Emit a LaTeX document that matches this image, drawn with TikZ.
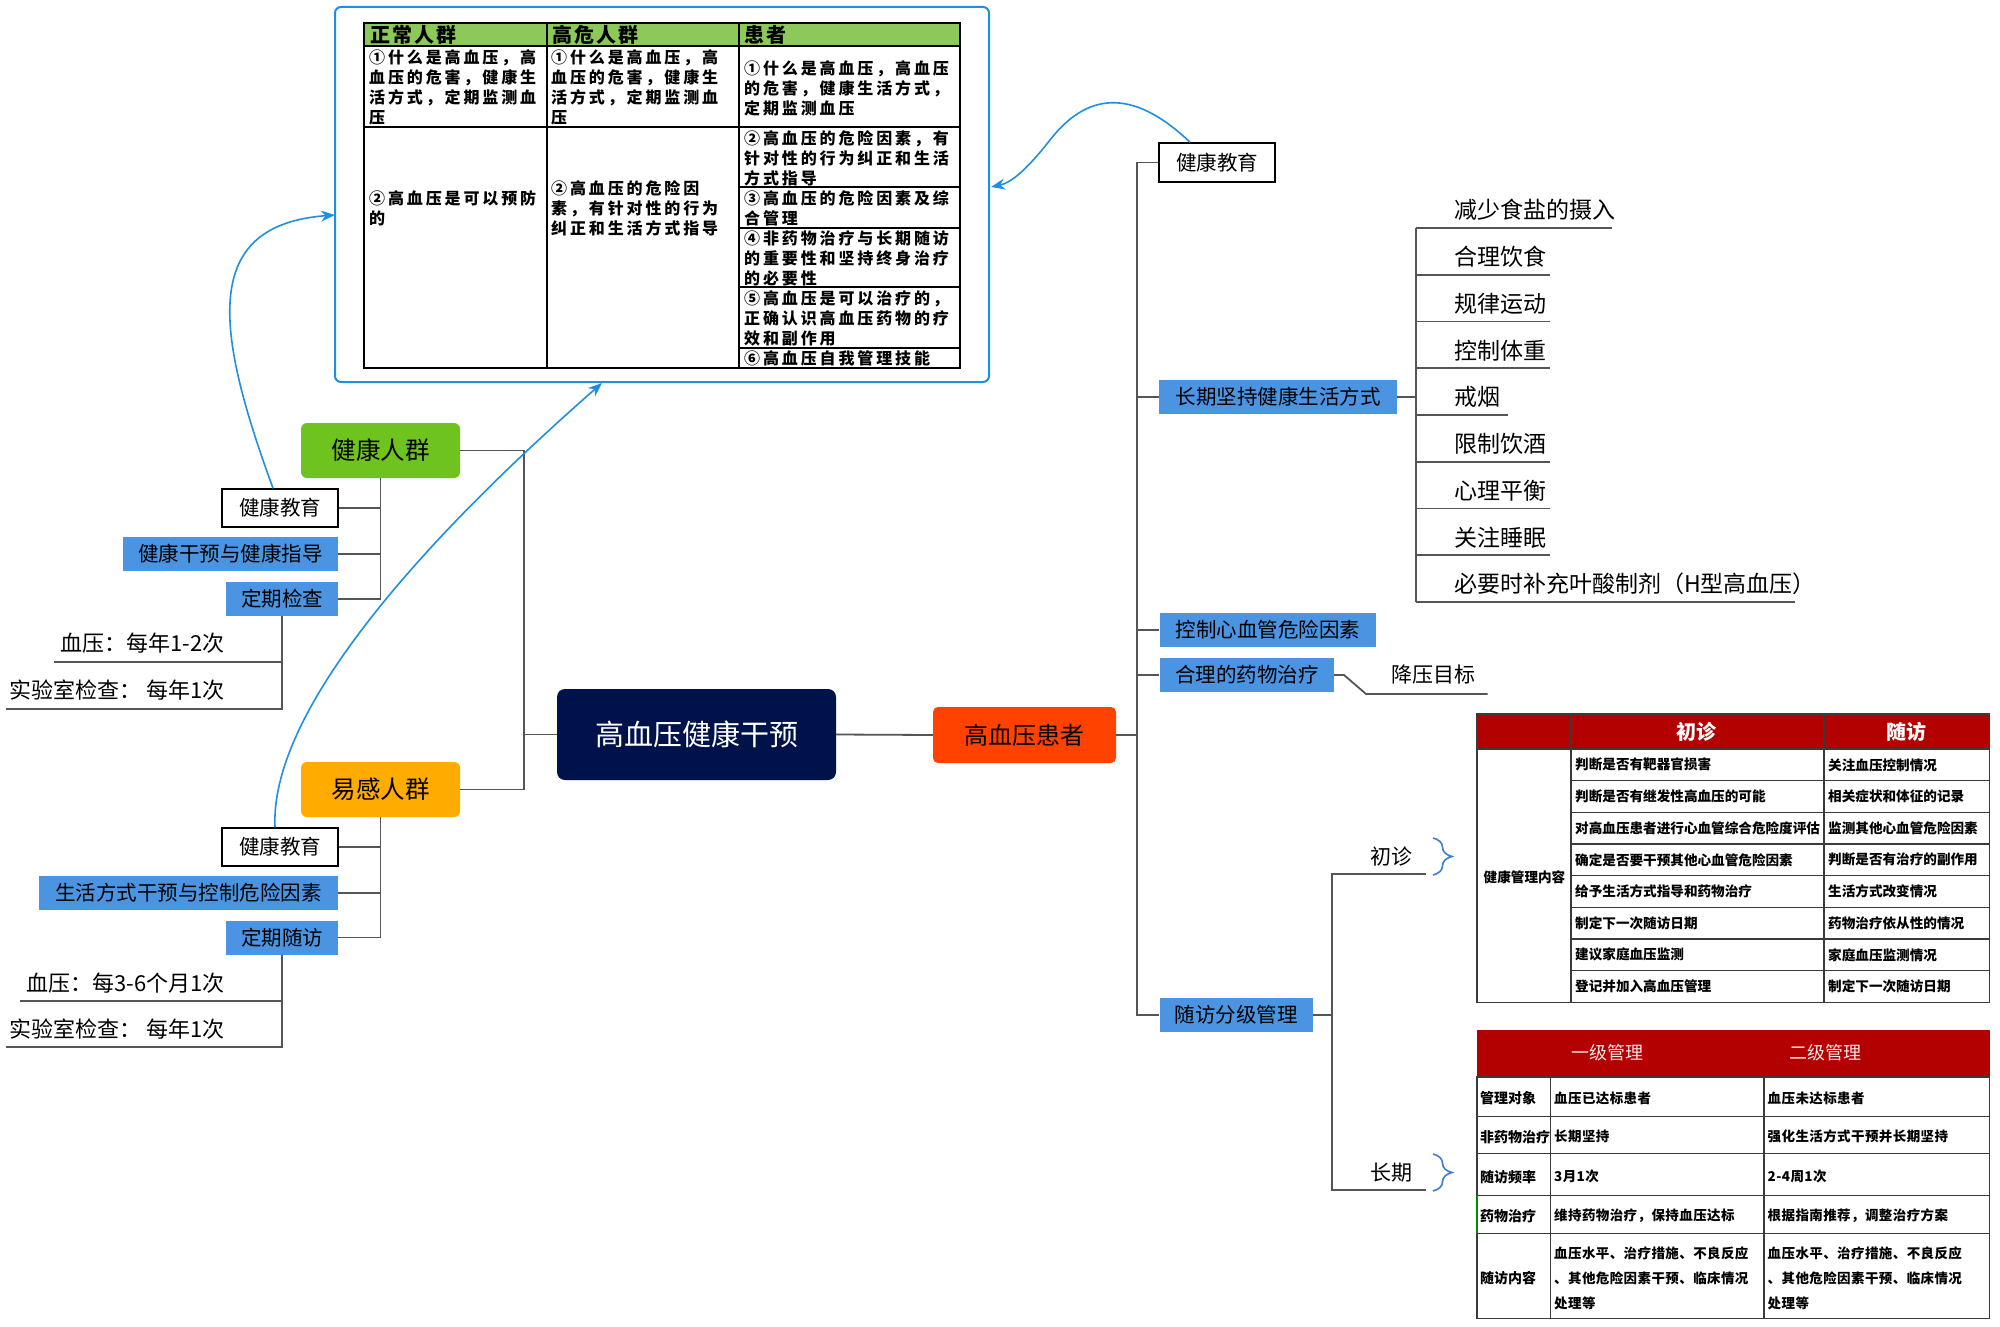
\documentclass[tikz,border=0pt]{standalone}
\usepackage{fontspec}
\setmainfont{Noto Sans CJK SC}
\newfontfamily\tblA[LetterSpace=18]{Noto Sans CJK SC}
\newfontfamily\tblH[LetterSpace=10]{Noto Sans CJK SC}
\newfontfamily\tblB[LetterSpace=3]{Noto Sans CJK SC}
\usetikzlibrary{arrows.meta,decorations.pathreplacing,calc}
\definecolor{navy}{HTML}{00124A}
\definecolor{hpred}{HTML}{FF4200}
\definecolor{jkgreen}{HTML}{6EC31E}
\definecolor{ygorange}{HTML}{FFAB00}
\definecolor{bblue}{HTML}{4A94E2}
\definecolor{arrblue}{HTML}{1E8FE1}
\definecolor{lgray}{HTML}{555555}
\definecolor{hgreen}{HTML}{8DC95A}
\definecolor{tred}{HTML}{B30000}
\definecolor{brblue}{HTML}{3C7FD0}
\definecolor{tline}{HTML}{3A3A3A}
\definecolor{hdtext}{HTML}{FBE6E6}
\begin{document}
\begin{tikzpicture}[x=1pt,y=-1pt,
  conn/.style={draw=lgray,line width=1.8pt},
  lab/.style={font=\fontsize{20.5}{24}\selectfont,inner sep=0pt,text=black},
  wbox/.style={lab,draw=black,line width=1.5pt,fill=white},
  bbox/.style={lab,fill=bblue},
  sublab/.style={font=\fontsize{23}{26}\selectfont,inner sep=0pt,anchor=west},
  leaflab/.style={font=\fontsize{22}{26}\selectfont,inner sep=0pt,anchor=east},
  arr/.style={draw=arrblue,line width=1.6pt,-{Stealth[length=14pt,width=11pt]}},
  brc/.style={draw=brblue,line width=1.6pt,decorate,decoration={brace,amplitude=19pt}},
  tA/.style={font=\tblA\bfseries\fontsize{16}{20}\selectfont,inner sep=0pt,anchor=west,align=left},
  tHead/.style={font=\tblH\bfseries\fontsize{20}{22}\selectfont,inner sep=0pt,anchor=west},
  tB/.style={font=\bfseries\fontsize{13.6}{16}\selectfont,inner sep=0pt,anchor=west},
  tC/.style={font=\tblB\bfseries\fontsize{13.5}{25}\selectfont,inner sep=0pt,anchor=west,align=left},
]
\fill[white] (0,0) rectangle (2000,1327);
\useasboundingbox (0,0) rectangle (2000,1327);

% ---------- top table box ----------
\node[draw=arrblue,line width=2pt,rounded corners=6pt,minimum width=654pt,minimum height=375pt,inner sep=0pt] (tbox) at (662,194.5) {};
\fill[hgreen] (364,23) rectangle (960,46);
\draw[black,line width=1.5pt] (364,23) rectangle (960,368);
\draw[black,line width=1.5pt] (364,46) -- (960,46) (364,127) -- (960,127)
  (739,187) -- (960,187) (739,228) -- (960,228) (739,287) -- (960,287) (739,348) -- (960,348)
  (547,23) -- (547,368) (739,23) -- (739,368);
\node[tHead] (h1) at (370,35) {正常人群};
\node[tHead] (h2) at (552,35) {高危人群};
\node[tHead] (h3) at (744,35) {患者};
\node[tA] (c11) at (369,87.75) {①什么是高血压，高\\血压的危害，健康生\\活方式，定期监测血\\压};
\node[tA] (c12) at (551,87.75) {①什么是高血压，高\\血压的危害，健康生\\活方式，定期监测血\\压};
\node[tA] (c13) at (744,88) {①什么是高血压，高血压\\的危害，健康生活方式，\\定期监测血压};
\node[tA] (c21) at (369,208) {②高血压是可以预防\\的};
\node[tA] (c22) at (551,208) {②高血压的危险因\\素，有针对性的行为\\纠正和生活方式指导};
\node[tA] (c23) at (744,158) {②高血压的危险因素，有\\针对性的行为纠正和生活\\方式指导};
\node[tA] (c33) at (744,208) {③高血压的危险因素及综\\合管理};
\node[tA] (c43) at (744,258) {④非药物治疗与长期随访\\的重要性和坚持终身治疗\\的必要性};
\node[tA] (c53) at (744,318) {⑤高血压是可以治疗的，\\正确认识高血压药物的疗\\效和副作用};
\node[tA] (c63) at (744,358) {⑥高血压自我管理技能};

% ---------- main nodes ----------
\node[fill=navy,rounded corners=8pt,minimum width=279pt,minimum height=91pt,inner sep=0pt,text=white,font=\fontsize{29}{32}\selectfont] (hub) at (696.5,734.5) {高血压健康干预};
\node[fill=hpred,rounded corners=5pt,minimum width=183pt,minimum height=56pt,inner sep=0pt,font=\fontsize{24}{28}\selectfont] (hp) at (1024.5,735) {高血压患者};
\node[fill=jkgreen,rounded corners=6pt,minimum width=159pt,minimum height=55pt,inner sep=0pt,font=\fontsize{24.5}{28}\selectfont] (jk) at (380.5,450.5) {健康人群};
\node[fill=ygorange,rounded corners=6pt,minimum width=159pt,minimum height=55pt,inner sep=0pt,font=\fontsize{24.5}{28}\selectfont] (yg) at (380.5,789.5) {易感人群};

\coordinate (LT) at (524,0);
\draw[conn] (jk.east) -- (jk.east -| LT) |- (hub.west);
\draw[conn] (yg.east) -- (yg.east -| LT) |- (hub.west);
\draw[conn] (hub.east) -- (hp.west);

% ---------- left: healthy ----------
\node[wbox,minimum width=116pt,minimum height=38pt] (jkA) at (280,508) {健康教育};
\node[bbox,minimum width=215.5pt,minimum height=34pt] (jkB) at (230.25,554) {健康干预与健康指导};
\node[bbox,minimum width=112pt,minimum height=34pt] (jkC) at (282,599) {定期检查};
\draw[conn] (jk.south) -- (jk.south |- jkC.east);
\foreach \n in {jkA,jkB,jkC} \draw[conn] (\n.east) -- (\n.east -| jk.south);
\node[leaflab] (l1) at (225,643) {血压：每年1-2次};
\node[leaflab] (l2) at (225,690) {实验室检查：\ 每年1次};
\coordinate (l1e) at (53.6,662);
\coordinate (l2e) at (6.4,709);
\draw[conn] (jkC.south) |- (l1e);
\draw[conn] (jkC.south) |- (l2e);

% ---------- left: susceptible ----------
\node[wbox,minimum width=116pt,minimum height=38pt] (ygA) at (280,847) {健康教育};
\node[bbox,minimum width=299.4pt,minimum height=34pt] (ygB) at (188.3,893) {生活方式干预与控制危险因素};
\node[bbox,minimum width=112pt,minimum height=34pt] (ygC) at (282,937.5) {定期随访};
\draw[conn] (yg.south) -- (yg.south |- ygC.east);
\foreach \n in {ygA,ygB,ygC} \draw[conn] (\n.east) -- (\n.east -| yg.south);
\node[leaflab] (l3) at (225,982.7) {血压：每3-6个月1次};
\node[leaflab] (l4) at (225,1029) {实验室检查：\ 每年1次};
\coordinate (l3e) at (19.6,1001);
\coordinate (l4e) at (6.4,1047);
\draw[conn] (ygC.south) |- (l3e);
\draw[conn] (ygC.south) |- (l4e);

% ---------- right branch ----------
\node[wbox,minimum width=116pt,minimum height=39pt] (rA) at (1217,162.5) {健康教育};
\node[bbox,minimum width=238pt,minimum height=34pt] (rB) at (1278,397) {长期坚持健康生活方式};
\node[bbox,minimum width=216.5pt,minimum height=34pt] (rC) at (1267.75,630) {控制心血管危险因素};
\node[bbox,minimum width=174.5pt,minimum height=34pt] (rD) at (1246.75,675) {合理的药物治疗};
\node[bbox,minimum width=153.5pt,minimum height=34pt] (rE) at (1236.25,1015) {随访分级管理};
\coordinate (RT) at (1137,0);
\draw[conn] (hp.east) -- (hp.east -| RT);
\draw[conn] (rA.west) -- (rA.west -| RT) -- (rE.west -| RT) -- (rE.west);
\foreach \n in {rB,rC,rD} \draw[conn] (\n.west) -- (\n.west -| RT);

% lifestyle items
\coordinate (ST) at (1416,0);
\draw[conn] (rB.east) -- (rB.east -| ST);
\foreach \t/\e [count=\i] in {减少食盐的摄入/1612,合理饮食/1550,规律运动/1550,控制体重/1550,戒烟/1508,限制饮酒/1550,心理平衡/1550,关注睡眠/1550,必要时补充叶酸制剂（H型高血压）/1795}{
  \node[sublab] (s\i) at (1454,{210+46.75*(\i-1)}) {\t};
  \coordinate (u\i) at (\e,{228+46.75*(\i-1)});
  \draw[conn] (ST |- u\i) -- (u\i);
}
\draw[conn] (ST |- u1) -- (ST |- u9);

% drug therapy
\node[lab,font=\fontsize{21}{24}\selectfont] (dt) at (1433,675) {降压目标};
\coordinate (dte) at (1487.5,694);
\draw[conn] (rD.east) -- (1344,675) -- (1366,694) -- (dte);

% follow-up
\coordinate (ET) at (1332,0);
\coordinate (e1) at (1426,874);
\coordinate (e2) at (1426,1190);
\draw[conn] (rE.east) -- (rE.east -| ET);
\draw[conn] (e1) -- (ET |- e1) -- (ET |- e2) -- (e2);
\node[lab,font=\fontsize{21}{24}\selectfont] (cz) at (1391,857) {初诊};
\node[lab,font=\fontsize{21}{24}\selectfont] (cq) at (1391,1173) {长期};
\draw[brc] (1433,838) -- (1433,875);
\draw[brc] (1433,1154) -- (1433,1191);

% ---------- table 2 ----------
\fill[tred] (1477,714) rectangle (1989.5,749);
\draw[tline,line width=1.5pt] (1477,714) rectangle (1989.5,1002.3);
\draw[tline,line width=1.5pt] (1477,749) -- (1989.5,749)
  (1571,714) -- (1571,1002.3) (1824,714) -- (1824,1002.3);
\foreach \k in {1,...,7} \draw[tline,line width=1.5pt] (1571,{749+31.66*\k}) -- (1989.5,{749+31.66*\k});
\node[font=\bfseries\fontsize{20}{22}\selectfont,text=white,inner sep=0pt] (hz1) at (1696,732) {初诊};
\node[font=\bfseries\fontsize{20}{22}\selectfont,text=white,inner sep=0pt] (hz2) at (1906,732) {随访};
\node[tB] (hm) at (1483.5,877) {健康管理内容};
\foreach \a/\b [count=\k] in {判断是否有靶器官损害/关注血压控制情况,判断是否有继发性高血压的可能/相关症状和体征的记录,对高血压患者进行心血管综合危险度评估/监测其他心血管危险因素,确定是否要干预其他心血管危险因素/判断是否有治疗的副作用,给予生活方式指导和药物治疗/生活方式改变情况,制定下一次随访日期/药物治疗依从性的情况,建议家庭血压监测/家庭血压监测情况,登记并加入高血压管理/制定下一次随访日期}{
  \node[tB] (ta\k) at (1575,{749+31.66*(\k-0.5)}) {\a};
  \node[tB] (tb\k) at (1828,{749+31.66*(\k-0.5)}) {\b};
}

% ---------- table 3 ----------
\fill[tred] (1477,1030) rectangle (1989.5,1077);
\draw[tline,line width=1.5pt] (1477,1077) rectangle (1989.5,1318.3);
\draw[tline,line width=1.5pt] (1477,1116.7) -- (1989.5,1116.7) (1477,1153.3) -- (1989.5,1153.3)
  (1477,1195.7) -- (1989.5,1195.7) (1477,1233.3) -- (1989.5,1233.3)
  (1550.4,1077) -- (1550.4,1318.3) (1764,1077) -- (1764,1318.3);
\draw[green!55!black,line width=1.5pt] (1477,1195.7) -- (1477,1233.3);
\node[font=\fontsize{18}{20}\selectfont,text=hdtext,inner sep=0pt] (g1) at (1607,1053) {一级管理};
\node[font=\fontsize{18}{20}\selectfont,text=hdtext,inner sep=0pt] (g2) at (1825,1053) {二级管理};
\node[tB,font=\bfseries\fontsize{14}{16}\selectfont] (m1) at (1480,1098) {管理对象};
\node[tB,font=\bfseries\fontsize{14}{16}\selectfont] (m2) at (1480,1136.7) {非药物治疗};
\node[tB,font=\bfseries\fontsize{14}{16}\selectfont] (m3) at (1480,1176.7) {随访频率};
\node[tB,font=\bfseries\fontsize{14}{16}\selectfont] (m4) at (1480,1216) {药物治疗};
\node[tB,font=\bfseries\fontsize{14}{16}\selectfont] (m5) at (1480,1278) {随访内容};
\node[tC] (n1) at (1554,1098) {血压已达标患者};
\node[tC] (n2) at (1554,1136.7) {长期坚持};
\node[tC] (n3) at (1554,1176.7) {3月1次};
\node[tC] (n4) at (1554,1216) {维持药物治疗，保持血压达标};
\node[tC] (n5) at (1554,1278) {血压水平、治疗措施、不良反应\\、其他危险因素干预、临床情况\\处理等};
\node[tC] (o1) at (1767.5,1098) {血压未达标患者};
\node[tC] (o2) at (1767.5,1136.7) {强化生活方式干预并长期坚持};
\node[tC] (o3) at (1767.5,1176.7) {2-4周1次};
\node[tC] (o4) at (1767.5,1216) {根据指南推荐，调整治疗方案};
\node[tC] (o5) at (1767.5,1278) {血压水平、治疗措施、不良反应\\、其他危险因素干预、临床情况\\处理等};

% ---------- blue arrows ----------
\coordinate (a1) at (335,215);
\coordinate (a2) at (602,383);
\coordinate (a3) at (991,187);
\draw[arr] ([xshift=-7pt]jkA.north) .. controls (215,330) and (200,225) .. (a1);
\draw[arr] ([xshift=-5pt]ygA.north) .. controls (270,720) and (400,560) .. (a2);
\draw[arr] ([xshift=-27pt]rA.north) .. controls (1130,85) and (1085,95) .. (1050,140) .. controls (1025,172) and (1010,183) .. (a3);
\end{tikzpicture}
\end{document}
